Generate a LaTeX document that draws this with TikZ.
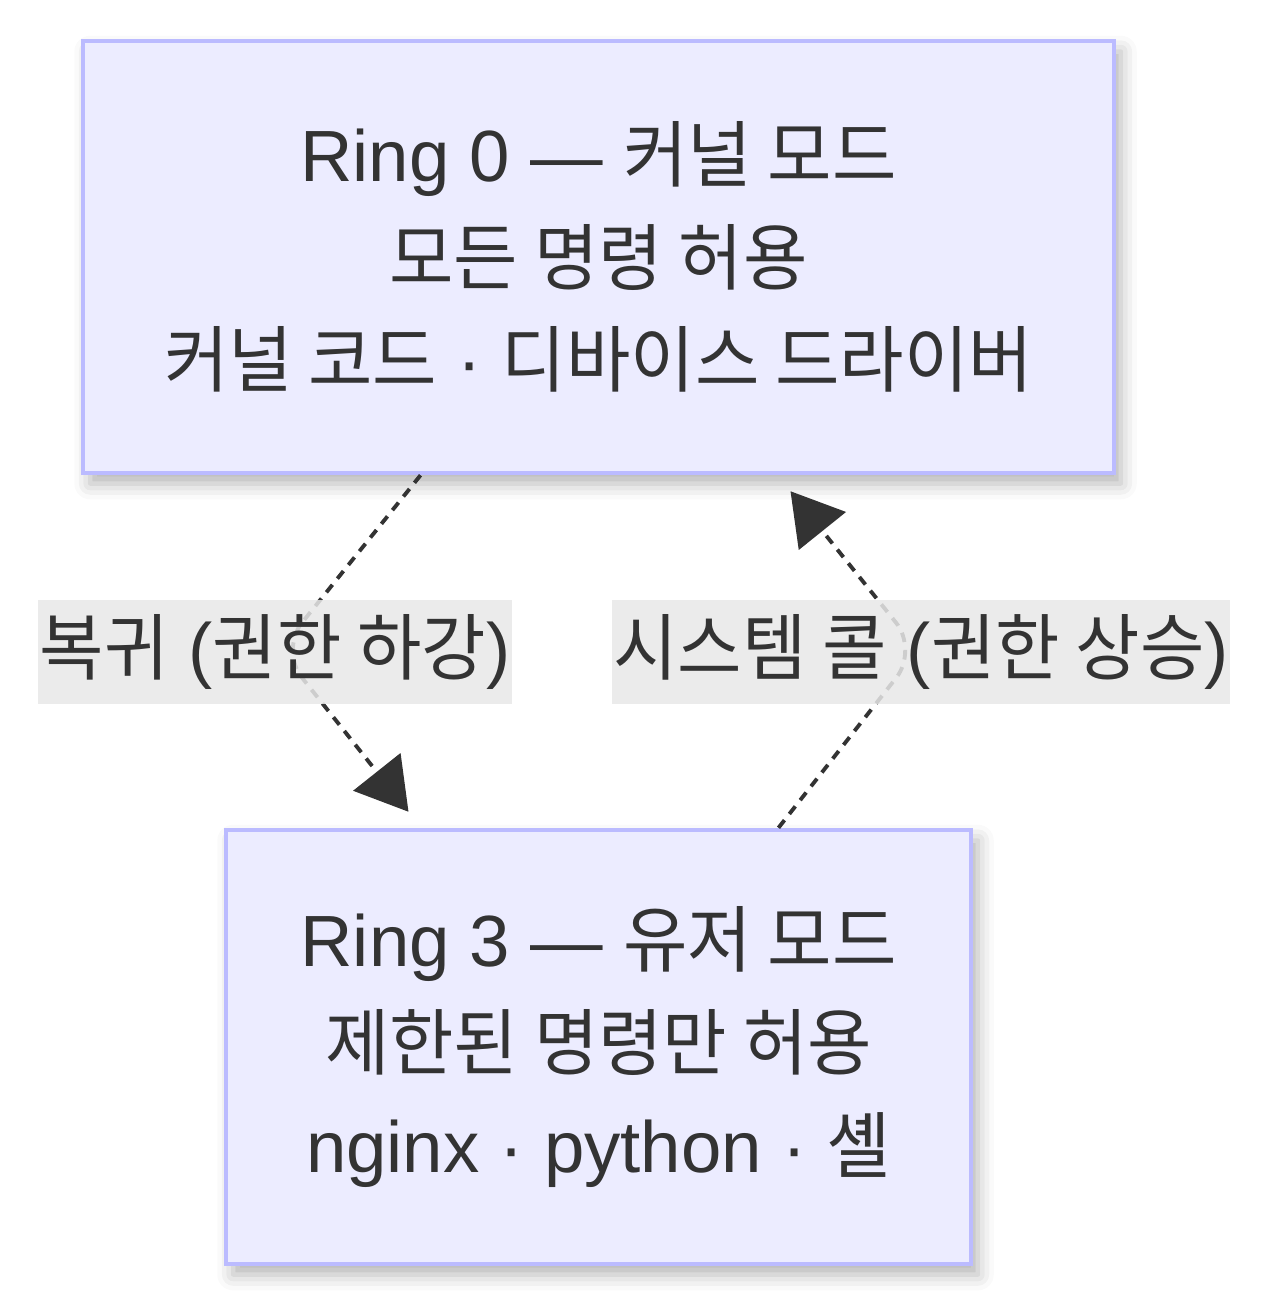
\documentclass[tikz,border=0pt]{standalone}
\usepackage{fontspec}
\setmainfont{Liberation Sans}
\newfontfamily\kr{Noto Sans CJK KR}[FakeStretch=0.965]
\usetikzlibrary{arrows.meta}
\usetikzlibrary{calc}
\usetikzlibrary{shadows.blur}

\definecolor{ringfill}{HTML}{ECECFF}
\definecolor{ringline}{HTML}{BBBBFF}
\definecolor{ink}{HTML}{333333}
\definecolor{lblfill}{HTML}{E8E8E8}

\begin{document}
\begin{tikzpicture}[x=0.02cm, y=-0.02cm,
		every node/.style={
			text=ink,
			align=center,
			font=\fontsize{41.3pt}{58.4pt}\selectfont
		},
		ring/.style={
			rectangle,
			draw=ringline,
			line width=2.6pt,
			fill=ringfill,
			blur shadow={shadow xshift=4pt, shadow yshift=-6pt,
				shadow blur radius=9pt, shadow opacity=30}
		},
		edgelbl/.style={
			rectangle,
			fill=lblfill,
			fill opacity=0.85,
			text opacity=1,
			inner xsep=1pt,
			inner ysep=0pt,
			minimum height=2.08cm
		},
		flow/.style={
			draw=ink,
			line width=2.2pt,
			dash pattern=on 5.5pt off 4.5pt,
			rounded corners=20pt,
			-{Triangle[length=29pt, width=34pt]}
		}]

		\useasboundingbox (0,0) rectangle (1272,1305);

		\node[ring, minimum width=20.62cm, minimum height=8.64cm] at (598.5,257) (ring0)
			{Ring 0 — {\kr 커널 모드}\\{\kr 모든 명령 허용}\\{\kr 커널 코드} · {\kr 디바이스 드라이버}};
		\node[ring, minimum width=14.9cm, minimum height=8.68cm] at (598.5,1047) (ring3)
			{Ring 3 — {\kr 유저 모드}\\{\kr 제한된 명령만 허용}\\nginx · python · {\kr 셸}};

		\coordinate (downbend) at (280,650);
		\coordinate (upbend) at (918,650);

		\draw[flow] ($(ring0.south)+(-178,0)$) -- (downbend) -- ($(ring3.north)+(-190,-16)$);
		\draw[flow] ($(ring3.north)+(180,0)$) -- (upbend) -- ($(ring0.south)+(192,16)$);

		%labels
		\node[edgelbl, minimum width=9.4cm] at (275,652) (downlbl) {{\kr 복귀} ({\kr 권한 하강})};
		\node[edgelbl, minimum width=12.36cm] at (921,652) (uplbl) {{\kr 시스템 콜} ({\kr 권한 상승})};

	\end{tikzpicture}
\end{document}
